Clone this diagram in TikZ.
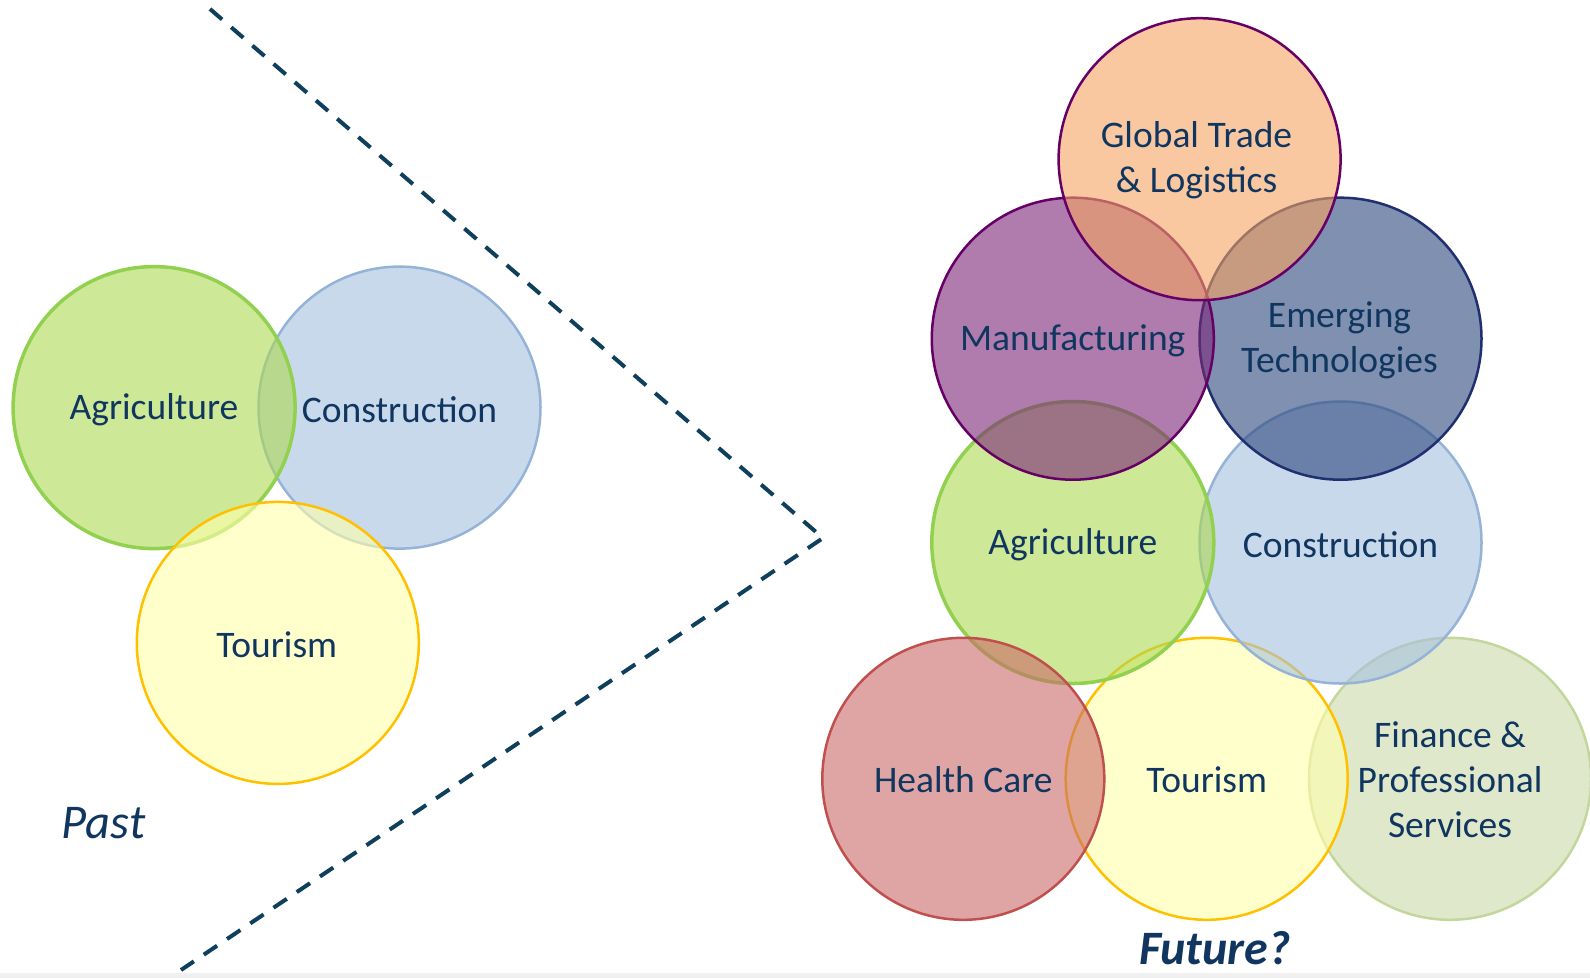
\documentclass[tikz,border=0pt]{standalone}
\usepackage{fontspec}
\setmainfont{Carlito}
\definecolor{textc}{HTML}{10365F}
\definecolor{dashc}{HTML}{0E3F5C}
\definecolor{stripg}{HTML}{F0F0F0}
\definecolor{agS}{HTML}{92D050}
\definecolor{agF}{HTML}{ACD950}
\definecolor{conS}{HTML}{95B3D7}
\definecolor{conF}{HTML}{A5C0DF}
\definecolor{touS}{HTML}{FFC000}
\definecolor{touF}{HTML}{FFFFAA}
\definecolor{gtS}{HTML}{660066}
\definecolor{gtF}{HTML}{F5A361}
\definecolor{manS}{HTML}{660066}
\definecolor{manF}{HTML}{7B2578}
\definecolor{emS}{HTML}{1F2F6F}
\definecolor{emF}{HTML}{2B467B}
\definecolor{hcS}{HTML}{C0504D}
\definecolor{hcF}{HTML}{CA6969}
\definecolor{finS}{HTML}{C3D69B}
\definecolor{finF}{HTML}{CBD9AA}
\begin{document}
\begin{tikzpicture}[x=1pt,y=-1pt,
  bubble/.style={circle, minimum size=282pt, inner sep=0pt, line width=2.5pt, fill opacity=0.6},
  lbl/.style={text=textc, font=\fontsize{37.5}{45}\selectfont, align=center, inner sep=0pt},
  dashline/.style={draw=dashc, line width=4pt, dash pattern=on 16pt off 12pt}]
\useasboundingbox (0,0) rectangle (1590,978);
\fill[stripg] (0,973) rectangle (1590,978);
% dashed chevron
\coordinate (dTop) at (210,9);
\coordinate (dApex) at (823,538);
\coordinate (dBot) at (181,970);
\draw[dashline] (dTop) -- (dApex) -- (dBot);
% past circles
\node[bubble, draw=conS, fill=conF] (cConL) at (399.5,407.6) {};
\node[bubble, draw=agS, fill=agF, line width=3.5pt] (cAgL) at (154.1,407.6) {};
\node[bubble, draw=touS, fill=touF] (cTouL) at (277.8,642.9) {};
% future circles
\node[bubble, draw=finS, fill=finF] (cFin) at (1450,778.8) {};
\node[bubble, draw=touS, fill=touF] (cTouR) at (1206.7,778.8) {};
\node[bubble, draw=conS, fill=conF] (cConR) at (1340.5,542.5) {};
\node[bubble, draw=agS, fill=agF, line width=3.5pt] (cAgR) at (1072.8,542.5) {};
\node[bubble, draw=hcS, fill=hcF] (cHc) at (963.3,778.8) {};
\node[bubble, draw=emS, fill=emF] (cEm) at (1340.5,338.7) {};
\node[bubble, draw=manS, fill=manF] (cMan) at (1072.8,338.7) {};
\node[bubble, draw=gtS, fill=gtF] (cGt) at (1199.6,159.2) {};
% labels past
\node[lbl] (tAgL) at (154,409.7) {Agriculture};
\node[lbl] (tConL) at (399.5,409.7) {Construction};
\node[lbl] (tTouL) at (276.8,645) {Tourism};
\node[lbl, font=\fontsize{48.5}{56}\selectfont\itshape] (tPast) at (103.4,823.4) {Past};
% labels future
\node[lbl] (tGt) at (1196.5,160.2) {Global Trade\\\& Logistics};
\node[lbl] (tMan) at (1072.8,340.7) {Manufacturing};
\node[lbl] (tEm) at (1339.5,340.7) {Emerging\\Technologies};
\node[lbl] (tAgR) at (1072.8,544.5) {Agriculture};
\node[lbl] (tConR) at (1340.5,544.5) {Construction};
\node[lbl] (tHc) at (963.3,779.8) {Health Care};
\node[lbl] (tTouR) at (1206.7,779.8) {Tourism};
\node[lbl] (tFin) at (1450,779.8) {Finance \&\\Professional\\Services};
\node[lbl, font=\fontsize{48}{56}\selectfont\bfseries\itshape] (tFut) at (1214.8,948) {Future?};
\end{tikzpicture}
\end{document}
